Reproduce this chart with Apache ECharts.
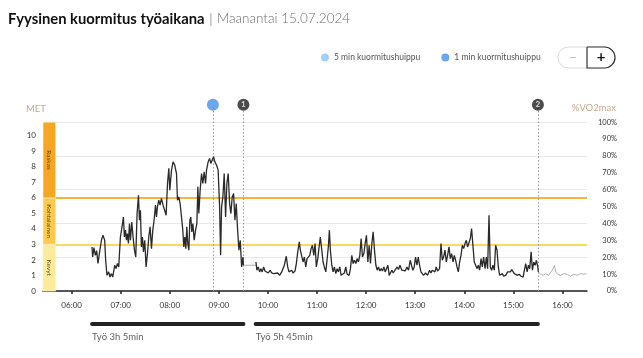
<!DOCTYPE html>
<html>
<head>
<meta charset="utf-8">
<script src="https://cdn.jsdelivr.net/npm/echarts@6/dist/echarts.min.js"></script>
<style>html,body{margin:0;padding:0;background:#fff;}#c{width:643px;height:358px;}</style>
</head>
<body>
<div id="c"></div>
<script>
// ---- data (time in minutes after midnight, value in MET) ----
const xMin = 325, xMax = 990;
const hourTicks = [360, 420, 480, 540, 600, 660, 720, 780, 840, 900, 960];
const metTicks = [0, 1, 2, 3, 4, 5, 6, 7, 8, 9, 10];
const pctTicks = [0, 10, 20, 30, 40, 50, 60, 70, 80, 90, 100];
const pctGrid = [0, 20, 40, 60, 80, 100];
const metAt100 = 10.88;   // MET equivalent of 100 % VO2max
const metView = 12.5;     // top of the drawing area (room for markers)
const markerMet = 12;
const bandEnd = 340.5;

const zones = [
  { name: 'Kevyt', from: 0, to: 3, color: '#fdeb9c' },
  { name: 'Kohtalainen', from: 3, to: 6, color: '#fbca4e' },
  { name: 'Raskas', from: 6, to: 10.88, color: '#f5a623' }
];
const zoneLines = [
  { met: 3, color: '#fcd862' },
  { met: 6, color: '#f6b33e' }
];

const work1 = [
[384.9,2.84],[385.7,2.19],[387.3,2.8],[389.0,2.3],[390.6,2.6],[392.2,1.77],[393.9,2.41],[396.4,3.27],[398.3,3.6],[400.4,3.27],[401.6,1.98],[403.2,1.01],[405.3,1.23],[406.9,0.9],[408.6,1.12],[410.2,0.9],[412.7,1.66],[414.2,1.44],[416.0,1.77],[417.6,1.55],[419.6,3.48],[421.6,4.13],[423.3,4.77],[424.5,3.48],[425.8,3.92],[427.0,3.27],[428.2,3.7],[429.4,3.06],[430.7,4.35],[431.9,3.27],[433.5,4.45],[435.1,3.48],[436.8,2.63],[438.4,2.19],[440.0,4.99],[441.7,6.17],[442.9,4.56],[444.1,5.2],[445.3,2.84],[446.6,3.48],[447.8,2.52],[449.4,3.27],[451.0,1.55],[452.7,2.41],[454.3,3.48],[455.9,4.13],[457.6,2.73],[459.2,3.92],[460.8,4.56],[462.5,5.53],[463.7,4.77],[464.9,5.42],[466.5,5.85],[468.1,5.53],[469.8,5.96],[471.8,5.53],[473.9,5.42],[475.5,4.88],[477.2,6.93],[478.8,7.9],
[480.0,6.5],[482.1,7.79],[484.0,8.32],[486.1,8.1],[488.2,7.57],[489.4,5.85],[491.0,6.06],[492.6,5.64],[494.3,4.77],[495.9,3.92],[497.1,2.84],[498.4,3.48],[499.6,2.73],[500.8,4.13],[502.0,3.06],[503.3,2.63],[504.5,4.56],[505.7,4.77],[506.9,3.81],[508.2,4.35],[509.8,3.27],[511.5,3.92],[513.1,4.35],[514.3,6.71],[515.5,4.99],[517.1,6.5],[518.8,7.57],[520.4,6.93],[522.0,7.68],[523.7,6.93],[524.9,7.79],[526.9,8.32],[528.6,8.54],[530.2,8.22],[531.8,8.43],[533.5,8.65],[535.1,8.32],[537.2,8.1],[539.1,7.79],[540.9,5.42],[542.1,2.3],[543.3,5.42],[544.9,6.06],[546.5,7.57],[548.2,4.77],[549.8,6.93],[551.4,7.57],[553.1,5.64],[554.7,4.99],[556.3,6.06],[558.0,6.28],[559.6,4.56],[561.2,5.64],[562.9,3.92],[564.5,2.63],[566.1,3.27],[567.8,1.55],[569.4,2.19],[570.0,1.66]
];
const gap = [[570.0,1.66],[585.3,1.66]];
const work2 = [
[585.3,1.87],[586.5,1.34],[588.1,1.55],[589.8,1.23],[591.4,1.44],[593.0,1.23],[594.7,1.55],[596.3,1.29],[598.4,1.38],[600.4,1.16],[602.8,1.34],[604.5,1.16],[607.0,1.12],[609.4,1.08],[611.9,1.16],[614.3,1.01],[616.8,1.23],[618.4,1.12],[620.0,1.66],[622.4,2.24],[624.1,1.55],[625.7,1.23],[627.3,1.12],[629.0,1.34],[630.6,1.16],[633.1,1.29],[634.7,1.77],[636.4,2.52],[638.3,3.16],[639.6,2.63],[641.3,2.73],[642.9,1.87],[644.5,2.19],[646.2,1.55],[647.8,2.09],[649.4,1.98],[651.1,2.3],[652.7,2.73],[654.3,2.95],[656.0,2.3],[657.6,3.06],[659.1,1.55],[660.9,2.09],[662.5,2.84],[664.0,3.48],[665.8,2.63],[667.4,1.87],[668.9,1.55],[670.7,1.23],[672.2,1.98],[673.8,2.84],[675.1,3.92],[676.3,2.63],[678.0,1.66],[679.6,1.23],[681.2,1.55],[682.9,1.12],[684.5,1.44],[686.1,1.23],[687.8,1.55],[689.4,1.01],[691.5,1.08],[693.4,1.16],[695.1,1.55],[696.7,1.08],[699.2,1.01],[700.8,1.44],[702.5,2.3],[704.1,1.77],[705.7,1.98],[707.4,1.77],[709.0,2.09],[710.6,1.87],[712.3,2.3],[713.9,3.38],[715.5,2.19],[717.2,2.41],[718.8,3.06],[720.4,3.59],[722.1,1.87],[723.7,2.95],[725.3,1.77],[727.0,3.06],[728.6,3.81],[730.2,2.63],[731.9,1.66],[733.5,1.34],[735.1,1.55],[736.8,1.29],[738.4,1.44],[740.0,1.29],[741.7,1.55],[743.3,1.23],[744.9,1.34],[746.6,1.66],[748.2,1.01],[749.8,1.08],[751.5,1.34],[753.1,1.16],[754.7,1.29],[756.4,1.23],[758.0,1.55],[759.6,1.38],[761.3,1.66],
[763.7,1.34],[765.7,1.44],[767.8,1.29],[769.8,1.55],[771.8,1.34],[773.9,1.98],[775.5,1.66],[777.2,1.34],[778.8,1.55],[780.4,2.19],[782.1,1.66],[783.7,2.19],[785.3,1.66],[787.0,1.23],[788.6,1.34],[790.2,1.01],[792.6,1.16],[795.1,1.01],[797.5,1.34],[799.2,1.16],[800.8,1.34],[802.4,1.44],[804.1,1.23],[805.7,1.55],[807.3,1.29],[809.8,1.44],[811.5,3.06],[813.1,1.98],[814.7,2.19],[816.4,2.63],[818.0,1.87],[819.6,2.3],[821.3,2.84],[822.9,2.09],[824.5,2.41],[826.2,1.87],[827.8,2.3],[829.4,1.98],[831.1,1.55],[832.7,1.23],[834.3,1.87],[836.0,2.3],[837.6,2.95],[839.2,2.73],[840.9,3.06],[842.5,3.27],[844.0,2.84],[845.8,2.95],[847.4,3.38],[848.9,4.03],[850.7,2.84],[852.2,1.87],[853.8,1.77],[855.6,1.44],[857.1,1.66],[858.7,1.34],[860.5,2.09],[862.0,1.55],[863.6,2.19],[865.4,1.44],[866.9,2.19],[868.5,1.44],[870.2,4.88],[871.8,1.55],[873.4,1.34],[875.1,1.66],[876.7,1.34],[878.3,2.95],[880.0,2.63],[881.6,1.55],[883.2,1.01],[884.9,1.01],[886.5,1.12],[888.1,0.95],[890.6,1.01],[893.0,1.23],[894.7,1.34],[896.3,1.23],[897.9,1.38],[899.6,1.29],[901.2,1.12],[902.8,1.23],[904.5,1.01],[907.0,1.08],[909.4,0.95],[911.9,0.9],[913.5,1.34],[915.1,1.77],[916.8,1.23],[918.4,1.66],[920.0,1.44],[921.7,2.52],[923.3,1.34],[924.9,1.87],[926.6,1.66],[928.2,1.98],[929.8,1.55],[930.6,1.23]
];
const afterWork = [[930.6,1.23],[933.1,1.08],[936.4,1.01],[939.6,1.12],[942.9,1.01],[946.2,1.23],[948.6,1.44],[950.2,1.66],[951.8,1.23],[954.3,1.08],[957.6,1.01],[961.6,1.12],[965.8,1.08],[969.8,0.95],[973.8,1.08],[978.0,1.01],[982.0,1.12],[986.1,1.08],[989.4,1.12]];

const peak1min = [532.7];
const peak5min = [];
const eventTimes = [570, 930];
const eventLabels = ['1', '2'];
const workPeriods = [
  { start: 385, end: 570, label: 'Työ 3h 5min' },
  { start: 585, end: 930, label: 'Työ 5h 45min' }
];

// ---- chart ----
const FONT = 'Lato';
const pad2 = n => (n < 10 ? '0' : '') + n;
const hhmm = v => pad2(Math.floor(v / 60)) + ':' + pad2(Math.round(v % 60));
const pctMax = metView / metAt100 * 100;

const chart = echarts.init(document.getElementById('c'), null, { renderer: 'canvas' });

const lineBase = { type: 'line', xAxisIndex: 0, yAxisIndex: 0, symbol: 'none', silent: true, animation: false };

const series = [
  Object.assign({}, lineBase, {
    name: 'work1', data: work1, z: 5,
    lineStyle: { color: '#2a2a2a', width: 1.3 },
    markArea: {
      silent: true,
      label: { show: true, position: 'inside', rotate: -90, fontSize: 6.5, color: '#6b4a14', fontFamily: FONT },
      data: zones.map(zn => [
        { coord: [xMin, zn.from], name: zn.name, itemStyle: { color: zn.color, borderColor: 'rgba(255,240,200,0.9)', borderWidth: 0.8 } },
        { coord: [bandEnd, zn.to] }
      ])
    },
    markLine: {
      silent: true, symbol: 'none', animation: false,
      label: { show: false },
      data: zoneLines.map(zl => [
        { coord: [bandEnd, zl.met], lineStyle: { color: zl.color, width: 2, type: 'solid' } },
        { coord: [xMax, zl.met] }
      ]).concat(eventTimes.concat(peak1min).map(t => [
        { coord: [t, 0], lineStyle: { color: '#9a9a9a', width: 1, type: [1.5, 2] } },
        { coord: [t, markerMet] }
      ]))
    }
  }),
  Object.assign({}, lineBase, { name: 'gap', data: gap, z: 4, lineStyle: { color: '#aaaaaa', width: 1 } }),
  Object.assign({}, lineBase, { name: 'work2', data: work2, z: 5, lineStyle: { color: '#2a2a2a', width: 1.3 } }),
  Object.assign({}, lineBase, { name: 'after', data: afterWork, z: 4, lineStyle: { color: '#b0b0b0', width: 1 } }),
  {
    type: 'scatter', name: '5 min kuormitushuippu', xAxisIndex: 0, yAxisIndex: 0,
    data: peak5min.map(t => [t, markerMet]), symbolSize: 12, itemStyle: { color: '#8fc3f3' }, z: 10
  },
  {
    type: 'scatter', name: '1 min kuormitushuippu', xAxisIndex: 0, yAxisIndex: 0,
    data: peak1min.map(t => [t, markerMet]), symbolSize: 12, itemStyle: { color: '#4690ea' }, z: 10, silent: true
  },
  {
    type: 'scatter', name: 'events', xAxisIndex: 0, yAxisIndex: 0, silent: true,
    data: eventTimes.map((t, i) => ({ value: [t, markerMet], name: eventLabels[i] })),
    symbolSize: 12, itemStyle: { color: '#1f1f1f' }, z: 10,
    label: { show: true, position: 'inside', formatter: p => p.name, color: '#fff', fontSize: 8, fontWeight: 'bold', fontFamily: FONT }
  }
];
workPeriods.forEach((w, i) => {
  series.push({
    type: 'line', name: 'wp' + i, xAxisIndex: 1, yAxisIndex: 2, symbol: 'none', silent: true,
    data: [[w.start, 0.5], [w.end, 0.5]],
    lineStyle: { color: '#222', width: 4, cap: 'round' }
  });
  series.push({
    type: 'scatter', name: 'wpl' + i, xAxisIndex: 1, yAxisIndex: 2, silent: true,
    data: [{ value: [w.start, 0.5], name: w.label }],
    symbolSize: 1, itemStyle: { color: 'rgba(0,0,0,0)' },
    label: { show: true, position: 'bottom', distance: 7, align: 'left', formatter: p => p.name, fontSize: 9.5, color: '#333', fontFamily: FONT }
  });
});

chart.setOption({
  animation: false,
  textStyle: { fontFamily: FONT },
  title: {
    left: 8, top: 10, padding: 0,
    text: '{b|Fyysinen kuormitus työaikana} {s||} {d|Maanantai 15.07.2024}',
    textStyle: {
      rich: {
        b: { fontFamily: FONT, fontWeight: 'bold', fontSize: 14.8, color: '#111' },
        s: { fontFamily: FONT, fontSize: 14, color: '#bbb' },
        d: { fontFamily: FONT, fontSize: 13.5, color: '#6f6f6f', fontWeight: 300 }
      }
    }
  },
  legend: {
    left: 316, top: 48, icon: 'circle', itemWidth: 8, itemHeight: 8, itemGap: 21,
    selectedMode: false,
    data: ['5 min kuormitushuippu', '1 min kuormitushuippu'],
    textStyle: { fontSize: 8.5, color: '#555', fontFamily: FONT }
  },
  grid: [
    { left: 43, right: 56, top: 97, bottom: 67 },
    { left: 43, right: 56, top: 318, height: 12 }
  ],
  xAxis: [
    {
      type: 'value', gridIndex: 0, min: xMin, max: xMax,
      axisLine: { show: true, lineStyle: { color: '#222', width: 1.5 } },
      axisTick: { show: true, length: 3, customValues: hourTicks, lineStyle: { color: '#222', width: 1.5 } },
      axisLabel: { customValues: hourTicks, formatter: hhmm, fontSize: 8, color: '#333', margin: 10, fontFamily: FONT },
      splitLine: { show: false }
    },
    { type: 'value', gridIndex: 1, min: xMin, max: xMax, show: false }
  ],
  yAxis: [
    {
      type: 'value', gridIndex: 0, position: 'left', min: 0, max: metView,
      axisLine: { show: false }, axisTick: { show: false, customValues: metTicks },
      axisLabel: { customValues: metTicks, fontSize: 8, color: '#333', margin: 7, fontFamily: FONT },
      splitLine: { show: false }
    },
    {
      type: 'value', gridIndex: 0, position: 'right', min: 0, max: pctMax,
      axisLine: { show: false }, axisTick: { show: false, customValues: pctGrid },
      axisLabel: { customValues: pctTicks, formatter: '{value}%', fontSize: 7.5, color: '#333', margin: 30, align: 'right', fontFamily: FONT },
      splitLine: { show: true, lineStyle: { color: '#e8e8e8', width: 1 } }
    },
    { type: 'value', gridIndex: 1, min: 0, max: 1, show: false }
  ],
  series: series,
  graphic: [
    { type: 'text', x: 36, y: 109, style: { text: 'MET', fill: '#c7a88f', fontSize: 9.5, align: 'center', verticalAlign: 'middle', fontFamily: FONT } },
    { type: 'text', x: 616, y: 108, style: { text: '%VO2max', fill: '#c7a88f', fontSize: 9.5, align: 'right', verticalAlign: 'middle', fontFamily: FONT } },
    { type: 'rect', shape: { x: 558, y: 47, width: 57, height: 21, r: 10.5 }, style: { fill: '#fff', stroke: '#d9d9d9', lineWidth: 1 } },
    { type: 'rect', shape: { x: 587, y: 47, width: 28, height: 21, r: [0, 10.5, 10.5, 0] }, style: { fill: '#fff', stroke: '#333', lineWidth: 1.2 } },
    { type: 'text', x: 573, y: 57.5, style: { text: '−', fill: '#bbb', fontSize: 13, align: 'center', verticalAlign: 'middle', fontFamily: FONT } },
    { type: 'text', x: 601, y: 57.5, style: { text: '+', fill: '#111', fontSize: 15, fontWeight: 'bold', align: 'center', verticalAlign: 'middle', fontFamily: FONT } }
  ]
});
</script>
</body>
</html>
